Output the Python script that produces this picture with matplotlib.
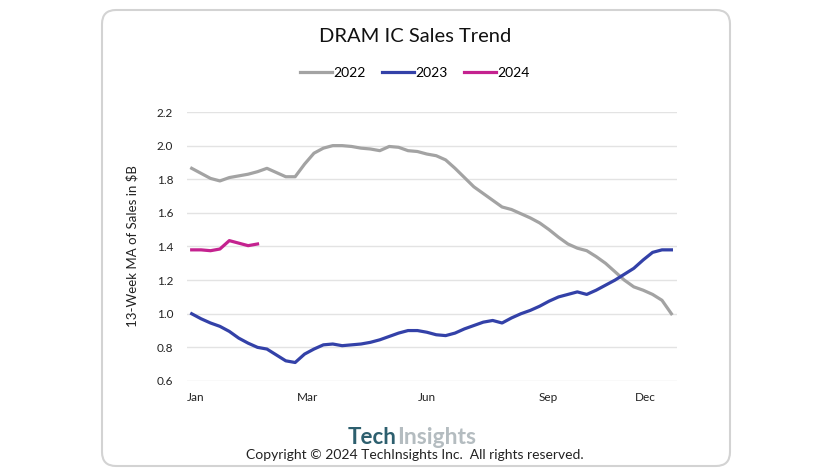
import matplotlib.pyplot as plt
from matplotlib.patches import FancyBboxPatch

# weekly 13-week moving average of DRAM IC sales, $B
sales_2022 = [1.865, 1.835, 1.805, 1.79, 1.81, 1.82, 1.83, 1.845, 1.865, 1.84,
              1.815, 1.815, 1.89, 1.955, 1.985, 2.0, 2.0, 1.995, 1.985, 1.98,
              1.97, 1.995, 1.99, 1.97, 1.965, 1.95, 1.94, 1.915, 1.865, 1.81,
              1.755, 1.715, 1.675, 1.635, 1.62, 1.595, 1.57, 1.54, 1.50, 1.455,
              1.415, 1.39, 1.375, 1.34, 1.30, 1.25, 1.20, 1.16, 1.14, 1.115,
              1.08, 1.0]
sales_2023 = [1.0, 0.97, 0.945, 0.925, 0.895, 0.855, 0.825, 0.80, 0.79, 0.755,
              0.72, 0.71, 0.76, 0.79, 0.815, 0.82, 0.81, 0.815, 0.82, 0.83,
              0.845, 0.865, 0.885, 0.90, 0.90, 0.89, 0.875, 0.87, 0.885, 0.91,
              0.93, 0.95, 0.96, 0.945, 0.975, 1.0, 1.02, 1.045, 1.075, 1.10,
              1.115, 1.13, 1.115, 1.14, 1.17, 1.20, 1.235, 1.27, 1.32, 1.365,
              1.38, 1.38]
sales_2024 = [1.38, 1.38, 1.375, 1.385, 1.435, 1.42, 1.405, 1.415]

month_labels = ['Jan', 'Mar', 'Jun', 'Sep', 'Dec']
month_pos = [0.45, 12.3, 25.0, 37.9, 48.2]

plt.rcParams['font.family'] = ['Lato', 'DejaVu Sans']

fig = plt.figure(figsize=(8.34, 4.71), dpi=100)

# rounded frame around the chart
frame = FancyBboxPatch((1.02, 0.05), 6.28, 4.56,
                       boxstyle='round,pad=0,rounding_size=0.14',
                       transform=fig.dpi_scale_trans, facecolor='white',
                       edgecolor='#d3d3d3', linewidth=1.5, zorder=-5)
fig.patches.append(frame)

ax = fig.add_axes([0.2242, 0.1911, 0.5876, 0.5711])
ax.set_facecolor('none')

weeks = list(range(len(sales_2022)))
ax.plot(weeks, sales_2022, color='#a3a3a3', lw=2.3, label='2022')
ax.plot(weeks, sales_2023, color='#3341a8', lw=2.3, label='2023')
ax.plot(weeks[:len(sales_2024)], sales_2024, color='#c4228f', lw=2.3, label='2024')

ax.set_ylim(0.6, 2.2)
ax.set_xlim(-0.5, 51.6)
ax.set_yticks([0.6, 0.8, 1.0, 1.2, 1.4, 1.6, 1.8, 2.0, 2.2])
ax.set_yticklabels([f'{v:.1f}' for v in ax.get_yticks()])
ax.set_xticks(month_pos)
ax.set_xticklabels(month_labels)
ax.tick_params(length=0, labelsize=8.5, colors='#222222')
ax.tick_params(axis='y', pad=10)
ax.tick_params(axis='x', pad=8)
ax.grid(axis='y', color='#e3e3e3', lw=1)
ax.set_axisbelow(True)
for s in ax.spines.values():
    s.set_visible(False)
ax.set_ylabel('13-Week MA of Sales in $B', fontsize=9.5, color='#222222', labelpad=13)

fig.text(0.4976, 0.923, 'DRAM IC Sales Trend', ha='center', va='center',
         fontsize=14.5, color='#111111')
fig.legend(loc='center', bbox_to_anchor=(0.4976, 0.845), ncol=3, frameon=False,
           fontsize=10, handlelength=2.3, handletextpad=0.1, columnspacing=1.2)

fig.text(0.4976, 0.034, 'Copyright © 2024 TechInsights Inc.  All rights reserved.',
         ha='center', va='center', fontsize=10, color='#222222')
fig.text(0.476, 0.072, 'Tech', ha='right', va='center', fontsize=16,
         fontweight='bold', color='#2d5f6e')
fig.text(0.476, 0.072, 'Insights', ha='left', va='center', fontsize=16.5,
         fontweight='bold', color='#b4bcc0')

fig.savefig('out.png', dpi=100)
